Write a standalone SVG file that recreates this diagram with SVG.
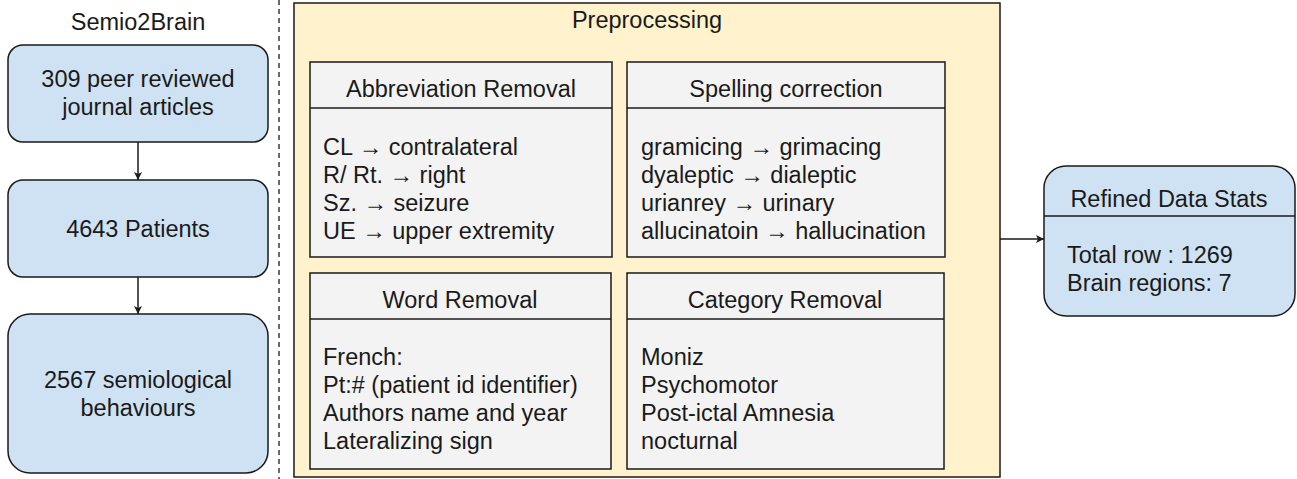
<svg xmlns="http://www.w3.org/2000/svg" width="1297" height="479" viewBox="0 0 1297 479">
<style>
text{font-family:"Liberation Sans",Arial,sans-serif;font-size:23.5px;fill:#1a1a1a}
.c{text-anchor:middle}
.blue{fill:#cfe2f3;stroke:#1a1a1a;stroke-width:1.5}
.gray{fill:#f3f3f3;stroke:#1a1a1a;stroke-width:1.5}
.yel{fill:#fff2cc;stroke:#1a1a1a;stroke-width:1.5}
.sep{stroke:#1a1a1a;stroke-width:1.5}
.edge{stroke:#1a1a1a;stroke-width:1.5;fill:none}
</style>
<defs>
<marker id="ah" viewBox="0 0 10 10" refX="10" refY="5" markerWidth="8" markerHeight="8" markerUnits="userSpaceOnUse" orient="auto">
<path d="M0,0 L10,5 L0,10 L2.5,5 Z" fill="#1a1a1a"/>
</marker>
</defs>
<rect width="1297" height="479" fill="#ffffff"/>
<line x1="279" y1="0" x2="279" y2="479" stroke="#1a1a1a" stroke-width="1.3" stroke-dasharray="5,4"/>
<text id="title-semio" class="c" x="138" y="30">Semio2Brain</text>
<g id="n-articles">
<rect class="blue" x="8" y="45" width="260" height="97" rx="15"/>
<text class="c" x="138" y="87">309 peer reviewed</text>
<text class="c" x="138" y="115">journal articles</text>
</g>
<g id="n-patients">
<rect class="blue" x="8" y="180" width="260" height="97" rx="15"/>
<text class="c" x="138" y="237">4643 Patients</text>
</g>
<g id="n-behaviours">
<rect class="blue" x="8" y="314" width="260" height="159" rx="22"/>
<text class="c" x="138" y="388">2567 semiological</text>
<text class="c" x="138" y="416">behaviours</text>
</g>
<g id="n-preprocessing">
<rect class="yel" x="294" y="3" width="706" height="474"/>
<text class="c" x="647" y="28">Preprocessing</text>
</g>
<g id="n-abbrev">
<rect class="gray" x="310" y="62" width="302" height="195"/>
<line class="sep" x1="310" y1="108" x2="612" y2="108"/>
<text class="c" x="461" y="97">Abbreviation Removal</text>
<text x="323" y="155">CL → contralateral</text>
<text x="323" y="183">R/ Rt. → right</text>
<text x="323" y="211">Sz. → seizure</text>
<text x="323" y="239">UE → upper extremity</text>
</g>
<g id="n-spelling">
<rect class="gray" x="627" y="62" width="318" height="195"/>
<line class="sep" x1="627" y1="108" x2="945" y2="108"/>
<text class="c" x="786" y="97">Spelling correction</text>
<text x="641" y="155">gramicing → grimacing</text>
<text x="641" y="183">dyaleptic → dialeptic</text>
<text x="641" y="211">urianrey → urinary</text>
<text x="641" y="239">allucinatoin → hallucination</text>
</g>
<g id="n-word">
<rect class="gray" x="310" y="273" width="301" height="196"/>
<line class="sep" x1="310" y1="319" x2="611" y2="319"/>
<text class="c" x="460" y="308">Word Removal</text>
<text x="323" y="365">French:</text>
<text x="323" y="393">Pt:# (patient id identifier)</text>
<text x="323" y="421">Authors name and year</text>
<text x="323" y="449">Lateralizing sign</text>
</g>
<g id="n-category">
<rect class="gray" x="627" y="273" width="317" height="196"/>
<line class="sep" x1="627" y1="319" x2="944" y2="319"/>
<text class="c" x="785" y="308">Category Removal</text>
<text x="641" y="365">Moniz</text>
<text x="641" y="393">Psychomotor</text>
<text x="641" y="421">Post-ictal Amnesia</text>
<text x="641" y="449">nocturnal</text>
</g>
<g id="n-refined">
<rect class="blue" x="1044" y="166" width="251" height="150" rx="22"/>
<line class="sep" x1="1044" y1="216" x2="1295" y2="216"/>
<text class="c" x="1169" y="207">Refined Data Stats</text>
<text x="1067" y="263">Total row : 1269</text>
<text x="1067" y="291">Brain regions: 7</text>
</g>
<g id="connectors">
<line class="edge" x1="138" y1="142" x2="138" y2="180" marker-end="url(#ah)"/>
<line class="edge" x1="138" y1="277" x2="138" y2="314" marker-end="url(#ah)"/>
<line class="edge" x1="1000" y1="239" x2="1044" y2="239" marker-end="url(#ah)"/>
</g>
</svg>
